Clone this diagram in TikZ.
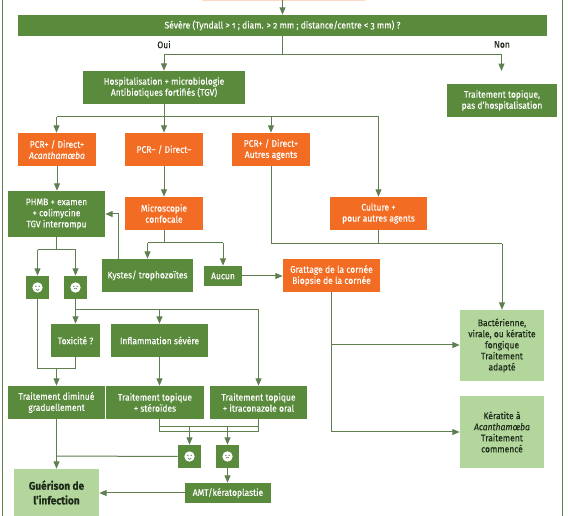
\documentclass[tikz,border=0pt]{standalone}
\usepackage{fontspec}
\setmainfont[Numbers=OldStyle,FakeStretch=0.9,FakeBold=0.15]{Fira Sans}
\usetikzlibrary{arrows.meta}
\definecolor{gbox}{HTML}{5A8A3C}
\definecolor{obox}{HTML}{F26C23}
\definecolor{lbox}{HTML}{B3D69C}
\definecolor{wire}{HTML}{5F7F50}
\definecolor{ink}{HTML}{1E2A1A}
\definecolor{peach}{HTML}{FBD9C4}
\tikzset{
  basebox/.style={inner sep=0pt,align=center,font=\fontsize{7.1}{8.3}\selectfont},
  greenbox/.style={basebox,fill=gbox,text=white},
  orangebox/.style={basebox,fill=obox,text=white},
  lightbox/.style={basebox,fill=lbox,text=ink},
  facebox/.style={fill=gbox,inner sep=0pt},
  tag/.style={inner sep=0pt,text=ink,font=\fontsize{7.1}{8.3}\selectfont},
  wireline/.style={draw=wire,line width=0.75pt},
  wirearrow/.style={wireline,-{Triangle[length=5.5pt,width=4.4pt]}},
  frameline/.style={draw=wire,line width=0.8pt},
  pics/faceglyph/.style={code={
    \fill[white] (0,0) circle (3.9pt);
    \fill[wire] (-1.2pt,0.9pt) circle (0.55pt) (1.2pt,0.9pt) circle (0.55pt);
    \draw[wire,line width=0.45pt] (-1.3pt,-1.2pt) .. controls (-0.5pt,#1) and (0.5pt,#1) .. (1.3pt,-1.2pt);
  }}
}
\newcommand{\flowbox}[7]{\node[#2,minimum width={(#5-#3)*0.75pt},minimum height={(#6-#4)*0.75pt}] (#1) at ({(#3+#5)/2},{(#4+#6)/2}) {#7};}
\begin{document}
\begin{tikzpicture}[x=0.75pt,y=-0.75pt]
\useasboundingbox (0,0) rectangle (568,516);
\fill[white] (0,0) rectangle (568,516);
% frame
\coordinate (fa) at (2.4,0); \coordinate (fb) at (2.4,516);
\coordinate (fc) at (562.3,0); \coordinate (fd) at (562.3,516);
\draw[frameline] (fa) -- (fb);
\draw[frameline] (fc) -- (fd);
% clipped box at the very top
\flowbox{topcut}{fill=peach,inner sep=0pt}{202}{0}{365}{1.2}{}
% boxes
\flowbox{sev}{greenbox}{18}{15}{547}{36}{Sévère (Tyndall > 1 ; diam. > 2 mm ; distance/centre < 3 mm) ?}
\flowbox{hosp}{greenbox}{83}{71}{245}{104}{Hospitalisation + microbiologie\\Antibiotiques fortifiés (TGV)}
\flowbox{topi}{greenbox}{447}{84}{557}{117}{Traitement topique,\\pas d’hospitalisation}
\flowbox{pcra}{orangebox}{18}{133}{96}{166}{PCR+ / Direct+\\\textit{Acanthamœba}}
\flowbox{pcrb}{orangebox}{125}{133}{203}{166}{PCR– / Direct–}
\flowbox{pcrc}{orangebox}{232}{133}{310}{166}{PCR+ / Direct+\\Autres agents}
\flowbox{phmb}{greenbox}{8}{191}{105}{237}{PHMB + examen\\+ colimycine\\TGV interrompu}
\flowbox{micro}{orangebox}{125}{197}{203}{230}{Microscopie\\confocale}
\flowbox{cult}{orangebox}{330}{197}{427}{230}{Culture +\\pour autres agents}
\flowbox{kyst}{greenbox}{102}{259}{193}{292}{Kystes/ trophozoïtes}
\flowbox{aucun}{greenbox}{204}{266}{242}{286}{Aucun}
\flowbox{grat}{orangebox}{283}{259}{380}{292}{Grattage de la cornée\\Biopsie de la cornée}
\flowbox{fa1}{facebox}{26}{276}{49}{299}{}
\flowbox{fa2}{facebox}{64}{276}{87}{299}{}
\flowbox{toxi}{greenbox}{51}{324}{100}{357}{Toxicité ?}
\flowbox{infl}{greenbox}{111}{324}{208}{357}{Inflammation sévère}
\flowbox{dimi}{greenbox}{8}{386}{105}{419}{Traitement diminué\\graduellement}
\flowbox{ster}{greenbox}{106}{386}{204}{419}{Traitement topique\\+ stéroïdes}
\flowbox{itra}{greenbox}{210}{386}{307}{419}{Traitement topique\\+ itraconazole oral}
\flowbox{fb1}{facebox}{178}{445}{201}{468}{}
\flowbox{fb2}{facebox}{216}{445}{239}{468}{}
\flowbox{amt}{greenbox}{185}{483}{271}{503}{AMT/kératoplastie}
\flowbox{guer}{lightbox,font=\fontsize{8.4}{11}\selectfont\bfseries}{14}{469}{99}{516}{Guérison de\\l’infection}
\flowbox{bact}{lightbox}{460}{310}{544}{381}{Bactérienne,\\virale, ou kératite\\fongique\\Traitement\\adapté}
\flowbox{kera}{lightbox}{460}{396}{544}{468}{Kératite à\\\textit{Acanthamœba}\\Traitement\\commencé}
% faces
\path (fa1) pic {faceglyph=-2.6pt};
\path (fa2) pic {faceglyph=-0.2pt};
\path (fb1) pic {faceglyph=-2.6pt};
\path (fb2) pic {faceglyph=-0.2pt};
% labels
\node[tag] (oui) at (164,44.5) {Oui};
\node[tag] (non) at (502,44.5) {Non};
% junctions
\coordinate (topin) at (282.5,0);
\coordinate (j0) at (282.5,55);
\coordinate (jo) at (164,55);
\coordinate (jn) at (501.5,55);
\coordinate (nonend) at (501.5,71);
\coordinate (h0) at (164,117);
\coordinate (ha) at (56.5,117);
\coordinate (hb) at (164,117);
\coordinate (hc) at (271,117);
\coordinate (hd) at (378.5,117);
\coordinate (m0) at (164,243);
\coordinate (ml) at (147.5,243);
\coordinate (mr) at (223,243);
\coordinate (ky) at (118,214);
\coordinate (ph0) at (56.5,250);
\coordinate (phl) at (37.5,250);
\coordinate (phr) at (75.5,250);
\coordinate (t0) at (75.5,310);
\coordinate (tb) at (159.5,310);
\coordinate (tc) at (258.5,310);
\coordinate (d0) at (56.5,369);
\coordinate (dl) at (37.5,369);
\coordinate (dr) at (75.5,369);
\coordinate (ca) at (271,244);
\coordinate (cb) at (378.5,244);
\coordinate (cc) at (502,244);
\coordinate (ga) at (331,345);
\coordinate (gb) at (331,432);
\coordinate (s1) at (159.5,427);
\coordinate (s2) at (159.5,432);
\coordinate (i1) at (258.5,427);
\coordinate (i2) at (258.5,432);
\coordinate (u1) at (189.5,427);
\coordinate (u2) at (227.5,427);
\coordinate (f0) at (56.5,456);
% connectors
\draw[wirearrow] (topin) -- (sev.north);
\draw[wireline] (sev.south) -- (j0);
\draw[wireline] (jo) -- (jn);
\draw[wirearrow] (jo) -- (jo |- hosp.north);
\draw[wirearrow] (jn) -- (nonend);
\draw[wireline] (hosp.south) -- (h0);
\draw[wireline] (ha) -- (hd);
\draw[wirearrow] (ha) -- (ha |- pcra.north);
\draw[wirearrow] (hb) -- (hb |- pcrb.north);
\draw[wirearrow] (hc) -- (pcrc.north);
\draw[wirearrow] (hd) -- (cult.north -| hd);
\draw[wirearrow] (pcra.south) -- (phmb.north -| pcra.south);
\draw[wirearrow] (pcrb.south) -- (micro.north);
\draw[wireline] (micro.south) -- (m0);
\draw[wireline] (ml) -- (mr);
\draw[wirearrow] (ml) -- (ml |- kyst.north);
\draw[wirearrow] (mr) -- (aucun.north);
\draw[wirearrow] (kyst.north -| ky) -- (ky) -- (ky -| phmb.east);
\draw[wirearrow] (aucun.east) -- (grat.west |- aucun.east);
\draw[wireline] (phmb.south) -- (ph0);
\draw[wireline] (phl) -- (phr);
\draw[wirearrow] (phl) -- (fa1.north);
\draw[wirearrow] (phr) -- (fa2.north);
\draw[wireline] (fa2.south) -- (t0);
\draw[wireline] (t0) -- (tc);
\draw[wirearrow] (t0) -- (t0 |- toxi.north);
\draw[wirearrow] (tb) -- (infl.north);
\draw[wirearrow] (tc) -- (itra.north);
\draw[wirearrow] (infl.south) -- (infl.south |- ster.north);
\draw[wireline] (fa1.south) -- (dl) -- (dr) -- (dr |- toxi.south);
\draw[wirearrow] (d0) -- (dimi.north -| d0);
\draw[wireline] (pcrc.south) -- (ca) -- (cc);
\draw[wireline] (cult.south -| cb) -- (cb);
\draw[wirearrow] (cc) -- (bact.north -| cc);
\draw[wireline] (grat.south -| ga) -- (gb);
\draw[wirearrow] (ga) -- (ga -| bact.west);
\draw[wirearrow] (gb) -- (gb -| kera.west);
\draw[wireline] (ster.south -| s2) -- (s2) -- (i2) -- (itra.south -| i2);
\draw[wireline] (s1) -- (i1);
\draw[wirearrow] (u1) -- (fb1.north);
\draw[wirearrow] (u2) -- (fb2.north);
\draw[wireline] (fb1.west) -- (f0);
\draw[wirearrow] (dimi.south -| f0) -- (guer.north -| f0);
\draw[wirearrow] (fb2.south) -- (amt.north -| fb2.south);
\draw[wirearrow] (amt.west) -- (amt.west -| guer.east);
\end{tikzpicture}
\end{document}
